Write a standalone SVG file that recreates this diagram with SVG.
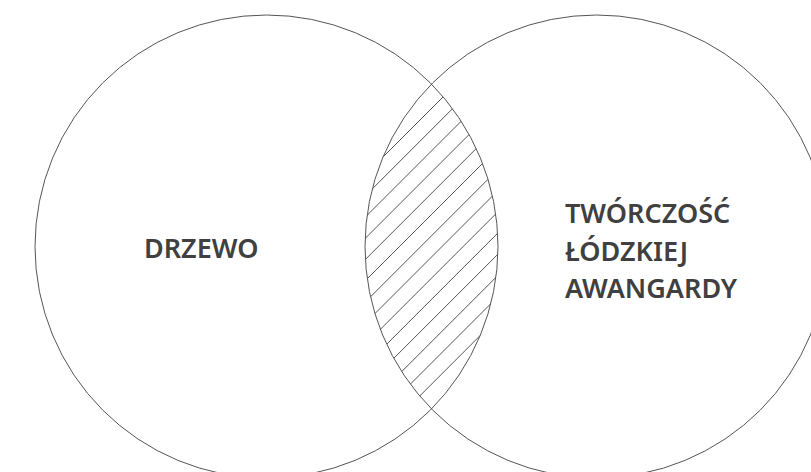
<svg xmlns="http://www.w3.org/2000/svg" width="811" height="472" viewBox="0 0 811 472">
<style>
.circ{fill:none;stroke:#555;stroke-width:1}
.hatch line{stroke:#555;stroke-width:1}
.lbl{font-family:"Noto Sans","Liberation Sans",sans-serif;font-weight:600;font-size:27px;fill:#404040}
</style>
<defs>
<clipPath id="cL"><circle cx="266.5" cy="246.5" r="231.5"/></clipPath>
<clipPath id="cR"><circle cx="596.5" cy="246.5" r="231.5"/></clipPath>
</defs>
<rect width="811" height="472" fill="#fff"/>
<g id="hatch-area" clip-path="url(#cL)">
<g class="hatch" clip-path="url(#cR)">
<line x1="300" y1="240" x2="500" y2="40"/>
<line x1="300" y1="261.2" x2="520" y2="41.2"/>
<line x1="300" y1="282.4" x2="540" y2="42.4"/>
<line x1="300" y1="303.6" x2="560" y2="43.6"/>
<line x1="300" y1="324.8" x2="580" y2="44.8"/>
<line x1="300" y1="346" x2="600" y2="46"/>
<line x1="300" y1="367.3" x2="600" y2="67.3"/>
<line x1="300" y1="388.5" x2="600" y2="88.5"/>
<line x1="300" y1="409.7" x2="600" y2="109.7"/>
<line x1="300" y1="430.9" x2="600" y2="130.9"/>
<line x1="300" y1="452.1" x2="600" y2="152.1"/>
<line x1="300" y1="473.3" x2="600" y2="173.3"/>
<line x1="300" y1="494.5" x2="600" y2="194.5"/>
<line x1="300" y1="515.7" x2="600" y2="215.7"/>
</g>
</g>
<g id="drzewo">
<circle class="circ" cx="266.5" cy="246.5" r="231.5"/>
<text class="lbl" x="144" y="258">DRZEWO</text>
</g>
<g id="tworczosc">
<circle class="circ" cx="596.5" cy="246.5" r="231.5"/>
<text class="lbl" x="565" y="223">TWÓRCZOŚĆ</text>
<text class="lbl" x="565" y="260.5">ŁÓDZKIEJ</text>
<text class="lbl" x="565" y="298">AWANGARDY</text>
</g>
</svg>
